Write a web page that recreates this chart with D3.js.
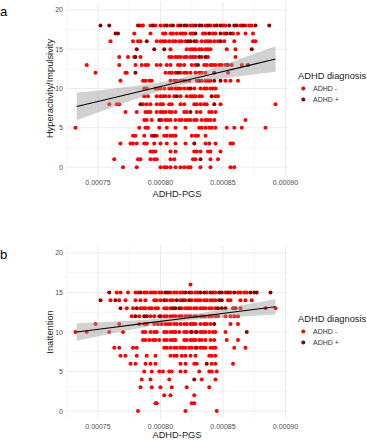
<!DOCTYPE html>
<html>
<head>
<meta charset="utf-8">
<script src="https://cdn.jsdelivr.net/npm/d3@7"></script>
<style>
  html, body { margin: 0; padding: 0; background: #fff; }
  svg { display: block; font-family: "Liberation Sans", Arial, sans-serif; }
</style>
</head>
<body>
<div id="chart"></div>
<script>
// rows of [score, [ADHD-PGS values]]
const hypNeg = [
  [18, [0.000784, 0.000786, 0.000792, 0.000796, 0.000800, 0.000803, 0.000808, 0.000814, 0.000824, 0.000826, 0.000836, 0.000840, 0.000843, 0.000850, 0.000852, 0.000864, 0.000868, 0.000871, 0.000873]],
  [17, [0.000779, 0.000792, 0.000802, 0.000804, 0.000808, 0.000810, 0.000813, 0.000816, 0.000818, 0.000820, 0.000824, 0.000826, 0.000834, 0.000836, 0.000842, 0.000844, 0.000851, 0.000858, 0.000862, 0.000868, 0.000874]],
  [16, [0.000760, 0.000778, 0.000782, 0.000784, 0.000797, 0.000800, 0.000802, 0.000804, 0.000807, 0.000810, 0.000812, 0.000815, 0.000817, 0.000820, 0.000829, 0.000833, 0.000836, 0.000838, 0.000840, 0.000843, 0.000846, 0.000851, 0.000859, 0.000874, 0.000876]],
  [15, [0.000808, 0.000821, 0.000824, 0.000826, 0.000828, 0.000831, 0.000833, 0.000836, 0.000838, 0.000840, 0.000853, 0.000860]],
  [14, [0.000767, 0.000774, 0.000779, 0.000784, 0.000807, 0.000809, 0.000812, 0.000814, 0.000816, 0.000819, 0.000821, 0.000824, 0.000826, 0.000828, 0.000833, 0.000838, 0.000860]],
  [13, [0.000741, 0.000767, 0.000780, 0.000785, 0.000788, 0.000790, 0.000797, 0.000800, 0.000805, 0.000808, 0.000814, 0.000816, 0.000819, 0.000825, 0.000828, 0.000835, 0.000837, 0.000840, 0.000842, 0.000844, 0.000847, 0.000849, 0.000852, 0.000857, 0.000865]],
  [12, [0.000748, 0.000772, 0.000773, 0.000804, 0.000807, 0.000809, 0.000812, 0.000816, 0.000819, 0.000821, 0.000824, 0.000828, 0.000831, 0.000833, 0.000836, 0.000854]],
  [11, [0.000768, 0.000786, 0.000788, 0.000791, 0.000793, 0.000808, 0.000811, 0.000813, 0.000816, 0.000818, 0.000820, 0.000823, 0.000829, 0.000833, 0.000836, 0.000838, 0.000840, 0.000852, 0.000856, 0.000862]],
  [10, [0.000787, 0.000789, 0.000796, 0.000798, 0.000800, 0.000803, 0.000807, 0.000809, 0.000812, 0.000814, 0.000816, 0.000819, 0.000822, 0.000827, 0.000832, 0.000835, 0.000837, 0.000840, 0.000842, 0.000844]],
  [9, [0.000787, 0.000790, 0.000797, 0.000800, 0.000802, 0.000804, 0.000807, 0.000811, 0.000816, 0.000821, 0.000824, 0.000826, 0.000828, 0.000831, 0.000833, 0.000844, 0.000846]],
  [8, [0.000759, 0.000765, 0.000767, 0.000786, 0.000789, 0.000792, 0.000797, 0.000800, 0.000802, 0.000807, 0.000809, 0.000816, 0.000819, 0.000827, 0.000829, 0.000832, 0.000835, 0.000837, 0.000848, 0.000892]],
  [7, [0.000772, 0.000781, 0.000788, 0.000790, 0.000792, 0.000797, 0.000800, 0.000802, 0.000804, 0.000807, 0.000809, 0.000812, 0.000819, 0.000821, 0.000829, 0.000832, 0.000839, 0.000841, 0.000844]],
  [6, [0.000787, 0.000789, 0.000793, 0.000801, 0.000804, 0.000806, 0.000808, 0.000812, 0.000815, 0.000817, 0.000820, 0.000822, 0.000824, 0.000827, 0.000829, 0.000833, 0.000836, 0.000838, 0.000840, 0.000843, 0.000868]],
  [5, [0.000732, 0.000783, 0.000788, 0.000790, 0.000799, 0.000805, 0.000812, 0.000820, 0.000831, 0.000833, 0.000836, 0.000839, 0.000841, 0.000844, 0.000853, 0.000859, 0.000865, 0.000884]],
  [4, [0.000778, 0.000780, 0.000787, 0.000793, 0.000797, 0.000803, 0.000805, 0.000808, 0.000810, 0.000812, 0.000825, 0.000828, 0.000830, 0.000836]],
  [3, [0.000768, 0.000776, 0.000778, 0.000781, 0.000787, 0.000789, 0.000795, 0.000800, 0.000805, 0.000812, 0.000820, 0.000836, 0.000839, 0.000844, 0.000856, 0.000858]],
  [2, [0.000792, 0.000794, 0.000796, 0.000808, 0.000812, 0.000827, 0.000829, 0.000832, 0.000838, 0.000840, 0.000848]],
  [1, [0.000763, 0.000782, 0.000784, 0.000792, 0.000795, 0.000797, 0.000808, 0.000811, 0.000826, 0.000828, 0.000840, 0.000846]],
  [0, [0.000770, 0.000781, 0.000800, 0.000803, 0.000805, 0.000808, 0.000812, 0.000816, 0.000819, 0.000822, 0.000824, 0.000832, 0.000840, 0.000856, 0.000859]]
];
const hypPos = [
  [18, [0.000752, 0.000759, 0.000782, 0.000794, 0.000805, 0.000810, 0.000816, 0.000819, 0.000821, 0.000828, 0.000831, 0.000833, 0.000838, 0.000845, 0.000848, 0.000855, 0.000859, 0.000861, 0.000866, 0.000876, 0.000887]],
  [17, [0.000764, 0.000766, 0.000828, 0.000839, 0.000848, 0.000853, 0.000856]],
  [16, [0.000789, 0.000822, 0.000824, 0.000827, 0.000848]],
  [15, [0.000781, 0.000795, 0.000803, 0.000873]],
  [14, [0.000780, 0.000831, 0.000836]],
  [13, [0.000830, 0.000854, 0.000870]],
  [12, [0.000780, 0.000814, 0.000843]],
  [11, [0.000831, 0.000843, 0.000848]],
  [10, [0.000824]],
  [9, [0.000813, 0.000841]],
  [8, [0.000784, 0.000843]],
  [7, [0.000824]],
  [6, [0.000799]],
  [4, [0.000795]],
  [3, [0.000827]],
  [1, [0.000832]]
];

const inaNeg = [
  [16, [0.000824]],
  [15, [0.000765, 0.000768, 0.000774, 0.000780, 0.000782, 0.000787, 0.000789, 0.000792, 0.000794, 0.000796, 0.000799, 0.000801, 0.000808, 0.000811, 0.000813, 0.000816, 0.000818, 0.000825, 0.000828, 0.000830, 0.000837, 0.000842, 0.000844, 0.000852, 0.000856, 0.000862, 0.000864, 0.000867, 0.000869]],
  [14, [0.000760, 0.000767, 0.000772, 0.000780, 0.000784, 0.000788, 0.000795, 0.000797, 0.000800, 0.000805, 0.000808, 0.000810, 0.000816, 0.000820, 0.000825, 0.000828, 0.000830, 0.000832, 0.000835, 0.000837, 0.000840, 0.000842, 0.000844, 0.000854, 0.000856, 0.000864, 0.000868, 0.000873]],
  [13, [0.000773, 0.000778, 0.000784, 0.000786, 0.000788, 0.000791, 0.000793, 0.000796, 0.000798, 0.000803, 0.000805, 0.000808, 0.000817, 0.000820, 0.000822, 0.000824, 0.000827, 0.000829, 0.000832, 0.000834, 0.000836, 0.000839, 0.000841, 0.000844, 0.000858, 0.000864, 0.000884, 0.000892]],
  [12, [0.000777, 0.000783, 0.000792, 0.000795, 0.000799, 0.000803, 0.000805, 0.000808, 0.000810, 0.000812, 0.000815, 0.000817, 0.000820, 0.000822, 0.000827, 0.000829, 0.000832, 0.000834, 0.000836, 0.000839, 0.000841, 0.000844, 0.000846, 0.000852, 0.000856, 0.000859, 0.000862]],
  [11, [0.000748, 0.000767, 0.000783, 0.000787, 0.000789, 0.000795, 0.000798, 0.000801, 0.000804, 0.000806, 0.000808, 0.000811, 0.000813, 0.000816, 0.000819, 0.000821, 0.000824, 0.000826, 0.000828, 0.000832, 0.000835, 0.000837, 0.000840, 0.000856, 0.000862]],
  [10, [0.000732, 0.000741, 0.000759, 0.000770, 0.000786, 0.000788, 0.000792, 0.000795, 0.000797, 0.000803, 0.000805, 0.000808, 0.000810, 0.000812, 0.000815, 0.000819, 0.000821, 0.000824, 0.000828, 0.000832, 0.000834, 0.000836, 0.000839, 0.000842, 0.000844, 0.000852]],
  [9, [0.000786, 0.000788, 0.000791, 0.000794, 0.000796, 0.000799, 0.000803, 0.000805, 0.000808, 0.000810, 0.000812, 0.000819, 0.000821, 0.000824, 0.000826, 0.000828, 0.000831, 0.000833, 0.000836, 0.000840, 0.000843, 0.000853, 0.000862]],
  [8, [0.000763, 0.000767, 0.000778, 0.000781, 0.000803, 0.000805, 0.000808, 0.000811, 0.000813, 0.000816, 0.000818, 0.000820, 0.000823, 0.000825, 0.000828, 0.000832, 0.000834, 0.000836, 0.000840, 0.000842, 0.000844, 0.000859, 0.000868]],
  [7, [0.000768, 0.000772, 0.000781, 0.000789, 0.000796, 0.000808, 0.000811, 0.000813, 0.000817, 0.000820, 0.000824, 0.000828, 0.000839, 0.000841, 0.000844]],
  [6, [0.000776, 0.000780, 0.000788, 0.000792, 0.000796, 0.000816, 0.000820, 0.000827, 0.000829, 0.000841, 0.000844, 0.000858]],
  [5, [0.000787, 0.000793, 0.000799, 0.000802, 0.000807, 0.000809, 0.000816, 0.000820, 0.000831, 0.000839, 0.000841, 0.000845]],
  [4, [0.000785, 0.000792, 0.000807, 0.000833, 0.000844]],
  [3, [0.000784, 0.000793, 0.000800, 0.000809, 0.000821, 0.000839]],
  [2, [0.000803, 0.000808, 0.000827]],
  [1, [0.000796, 0.000797, 0.000825, 0.000827]],
  [0, [0.000782, 0.000820, 0.000845]]
];
const inaPos = [
  [15, [0.000759, 0.000784, 0.000804, 0.000806, 0.000820, 0.000823, 0.000832, 0.000835, 0.000840, 0.000847, 0.000849, 0.000854, 0.000859, 0.000872, 0.000875, 0.000877, 0.000888]],
  [14, [0.000752, 0.000764, 0.000803, 0.000813, 0.000818, 0.000823, 0.000847, 0.000849]],
  [13, [0.000768, 0.000781, 0.000810, 0.000812, 0.000815, 0.000846, 0.000849, 0.000852, 0.000860]],
  [12, [0.000780, 0.000787, 0.000789, 0.000800, 0.000824]],
  [11, [0.000843]],
  [10, [0.000825, 0.000829, 0.000869]],
  [8, [0.000829]],
  [6, [0.000837]],
  [4, [0.000827]]
];

// linear fit with 95% band, read at a few x positions
const fitX = [0.000733, 0.000760, 0.000790, 0.000815, 0.000840, 0.000865, 0.000892];
const hypFit = [7.70, 8.73, 9.87, 10.82, 11.77, 12.72, 13.75];
const hypLow = [5.95, 7.51, 9.19, 10.37, 11.09, 11.60, 12.13];
const hypHigh = [9.45, 9.95, 10.55, 11.27, 12.45, 13.84, 15.37];
const inaFit = [10.00, 10.54, 11.15, 11.65, 12.15, 12.66, 13.20];
const inaLow = [8.90, 9.77, 10.71, 11.35, 11.71, 11.95, 12.22];
const inaHigh = [11.10, 11.31, 11.59, 11.95, 12.59, 13.37, 14.18];

const xTicks = [0.00075, 0.00080, 0.00085, 0.00090];
const xMinor = [0.000725, 0.000775, 0.000825, 0.000875];
const yTicks = [0, 5, 10, 15, 20];
const yMinor = [2.5, 7.5, 12.5, 17.5];
const groups = ["ADHD -", "ADHD +"];
const groupColors = ["#ff0000", "#8b0000"];

const W = 367, H = 440;
const svg = d3.select("#chart").append("svg")
  .attr("width", W).attr("height", H);

const x = d3.scaleLinear().domain([0.0007244, 0.000902]).range([66, 288]);

function toPoints(rows) {
  return rows.flatMap(([score, vals]) => vals.map(v => ({ x: v, y: score })));
}

function drawPanel(p) {
  const y = d3.scaleLinear().domain([-1, 21]).range([p.bottom, p.top]);
  const g = svg.append("g");
  const [x0, x1] = x.range();

  // grid
  g.selectAll(".ymin").data(yMinor).join("line")
    .attr("x1", x0).attr("x2", x1).attr("y1", d => y(d)).attr("y2", d => y(d))
    .attr("stroke", "#ebebeb").attr("stroke-width", 0.5);
  g.selectAll(".xmin").data(xMinor).join("line")
    .attr("y1", p.top).attr("y2", p.bottom).attr("x1", d => x(d)).attr("x2", d => x(d))
    .attr("stroke", "#ebebeb").attr("stroke-width", 0.5);
  g.selectAll(".ymaj").data(yTicks).join("line")
    .attr("x1", x0).attr("x2", x1).attr("y1", d => y(d)).attr("y2", d => y(d))
    .attr("stroke", "#ebebeb").attr("stroke-width", 1);
  g.selectAll(".xmaj").data(xTicks).join("line")
    .attr("y1", p.top).attr("y2", p.bottom).attr("x1", d => x(d)).attr("x2", d => x(d))
    .attr("stroke", "#ebebeb").attr("stroke-width", 1);

  // points
  [p.neg, p.pos].forEach((rows, i) => {
    g.append("g").selectAll("circle").data(toPoints(rows)).join("circle")
      .attr("cx", d => x(d.x)).attr("cy", d => y(d.y)).attr("r", 2)
      .attr("fill", groupColors[i]);
  });

  // smooth: band + line
  const band = fitX.map((v, i) => ({ x: v, lo: p.low[i], hi: p.high[i], fit: p.fit[i] }));
  g.append("path").datum(band)
    .attr("d", d3.area().curve(d3.curveMonotoneX)
      .x(d => x(d.x)).y0(d => y(d.lo)).y1(d => y(d.hi)))
    .attr("fill", "#999999").attr("fill-opacity", 0.45);
  g.append("path").datum(band)
    .attr("d", d3.line().x(d => x(d.x)).y(d => y(d.fit)))
    .attr("fill", "none").attr("stroke", "#000").attr("stroke-width", 1.1);

  // axes text
  g.selectAll(".yl").data(yTicks).join("text")
    .attr("x", 63).attr("y", d => y(d) + 2.5)
    .attr("text-anchor", "end").attr("font-size", 7).attr("fill", "#4d4d4d")
    .text(d => d);
  g.selectAll(".xl").data(xTicks).join("text")
    .attr("x", d => x(d)).attr("y", p.bottom + 10)
    .attr("text-anchor", "middle").attr("font-size", 7).attr("fill", "#4d4d4d")
    .text(d => d.toFixed(5));
  g.append("text")
    .attr("x", (x0 + x1) / 2).attr("y", p.bottom + p.titleGap)
    .attr("text-anchor", "middle").attr("font-size", 9.3).attr("fill", "#1a1a1a")
    .text("ADHD-PGS");
  g.append("text")
    .attr("transform", `translate(52.5,${(p.top + p.bottom) / 2}) rotate(-90)`)
    .attr("text-anchor", "middle").attr("font-size", 9.3).attr("fill", "#1a1a1a")
    .text(p.yTitle);
  g.append("text")
    .attr("x", 0).attr("y", p.top + 13.5)
    .attr("font-size", 13).attr("fill", "#000")
    .text(p.tag);

  // legend
  const lg = g.append("g");
  lg.append("text").attr("x", 298).attr("y", p.top + 76.5)
    .attr("font-size", 9.3).attr("fill", "#1a1a1a").text("ADHD diagnosis");
  groups.forEach((name, i) => {
    const cy = p.top + 86.5 + i * 11;
    lg.append("circle").attr("cx", 303.3).attr("cy", cy).attr("r", 2)
      .attr("fill", groupColors[i]);
    lg.append("text").attr("x", 313).attr("y", cy + 2.5)
      .attr("font-size", 7).attr("fill", "#333").text(name);
  });
}

drawPanel({ tag: "a", yTitle: "Hyperactivity/Impulsivity", top: 2, bottom: 175, titleGap: 21.5,
  neg: hypNeg, pos: hypPos, fit: hypFit, low: hypLow, high: hypHigh });
drawPanel({ tag: "b", yTitle: "Inattention", top: 245, bottom: 419, titleGap: 19.3,
  neg: inaNeg, pos: inaPos, fit: inaFit, low: inaLow, high: inaHigh });
</script>
</body>
</html>
